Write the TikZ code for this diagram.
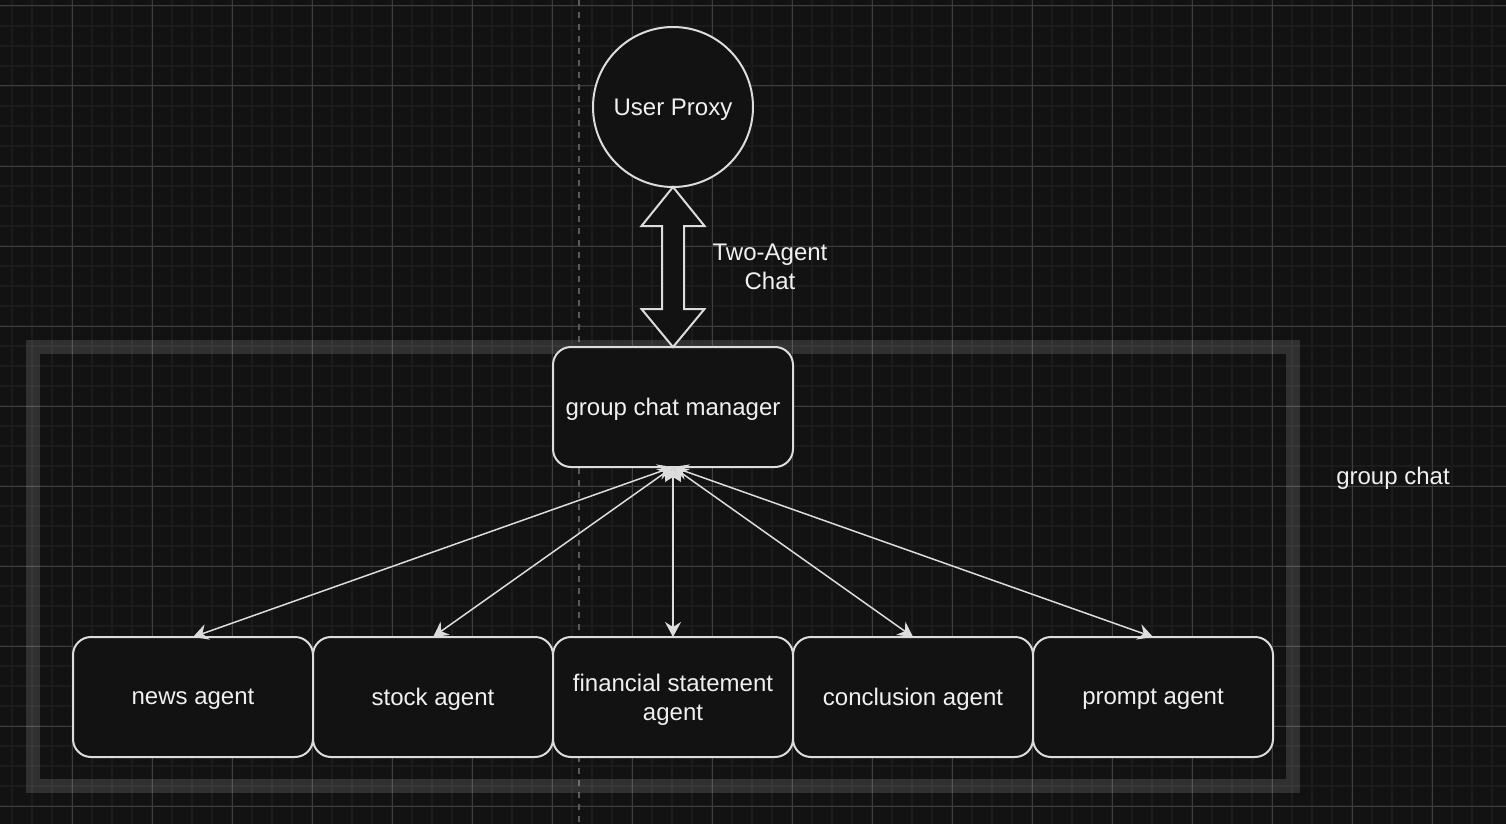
\documentclass[tikz,border=0pt]{standalone}
\usepackage{fontspec}
\setmainfont{Liberation Sans}
\usetikzlibrary{arrows.meta,calc}
\definecolor{bgc}{HTML}{121212}
\definecolor{minorc}{HTML}{1B1B1B}
\definecolor{majorc}{HTML}{3E3E3E}
\definecolor{strokec}{HTML}{DCDCDC}
\definecolor{textc}{HTML}{F0F0F0}
\definecolor{dashc}{HTML}{5A5A5A}
\tikzset{
  agentbox/.style={draw=strokec, fill=bgc, line width=2pt, rounded corners=18pt,
    minimum width=240pt, minimum height=120pt, inner sep=0pt, outer sep=0pt,
    text=textc, align=center, text depth=0pt, font=\fontsize{24}{29}\selectfont},
  proxycircle/.style={circle, draw=strokec, fill=bgc, line width=2pt, minimum size=160pt,
    inner sep=0pt, outer sep=0pt, text=textc, text depth=0pt, font=\fontsize{24}{29}\selectfont},
  labeltext/.style={text=textc, align=center, font=\fontsize{24}{29}\selectfont, inner sep=0pt},
  link/.style={draw=strokec, line width=1.5pt,
    {Stealth[length=15pt,width=16pt,inset=5pt]}-{Stealth[length=15pt,width=16pt,inset=5pt]}},
  dblarrow/.style={draw=strokec, fill=bgc, line width=2pt, line join=miter},
}
\begin{document}
\begin{tikzpicture}[x=1pt,y=-1pt]
\fill[bgc] (0,0) rectangle (1506,824);
\useasboundingbox (0,0) rectangle (1506,824);
% grid
\foreach \x in {12,32,...,1506} \draw[minorc, line width=2pt] (\x,0) -- (\x,824);
\foreach \y in {6,26,...,824} \draw[minorc, line width=2pt] (0,\y) -- (1506,\y);
\foreach \x in {72,152,...,1506} \draw[majorc, line width=1pt] (\x,0) -- (\x,824);
\foreach \y in {6,86,...,824} \draw[majorc, line width=1pt] (0,\y) -- (1506,\y);
% dashed guide
\draw[dashc, line width=2pt, dash pattern=on 6pt off 6pt] (579,0) -- (579,824);
% group chat container
\draw[white, draw opacity=0.13, line width=14pt] (33,347) rectangle (1293,786);
\node[labeltext] (gclabel) at (1393,478) {group chat};
% nodes
\node[proxycircle] (up) at (673,107) {User Proxy};
\node[agentbox] (mgr) at (673,407) {group chat manager};
\node[agentbox] (news) at (193,697) {news agent};
\node[agentbox] (stock) at (433,697) {stock agent};
\node[agentbox] (fin) at (673,697) {financial statement\\agent};
\node[agentbox] (concl) at (913,697) {conclusion agent};
\node[agentbox] (prompt) at (1153,697) {prompt agent};
% two-agent chat double arrow
\draw[dblarrow] (up.south) -- ++(-31.5,39) -- ++(20.5,0)
  -- ($(mgr.north)+(-11,-38)$) -- ++(-20.5,0) -- (mgr.north)
  -- ++(31.5,-38) -- ++(-20.5,0) -- ($(up.south)+(11,39)$) -- ++(20.5,0) -- cycle;
\node[labeltext] (talabel) at (770,267) {Two-Agent\\Chat};
% links
\foreach \t in {news,stock,fin,concl,prompt}
  \draw[link] (mgr.south) -- (\t.north);
\end{tikzpicture}
\end{document}
